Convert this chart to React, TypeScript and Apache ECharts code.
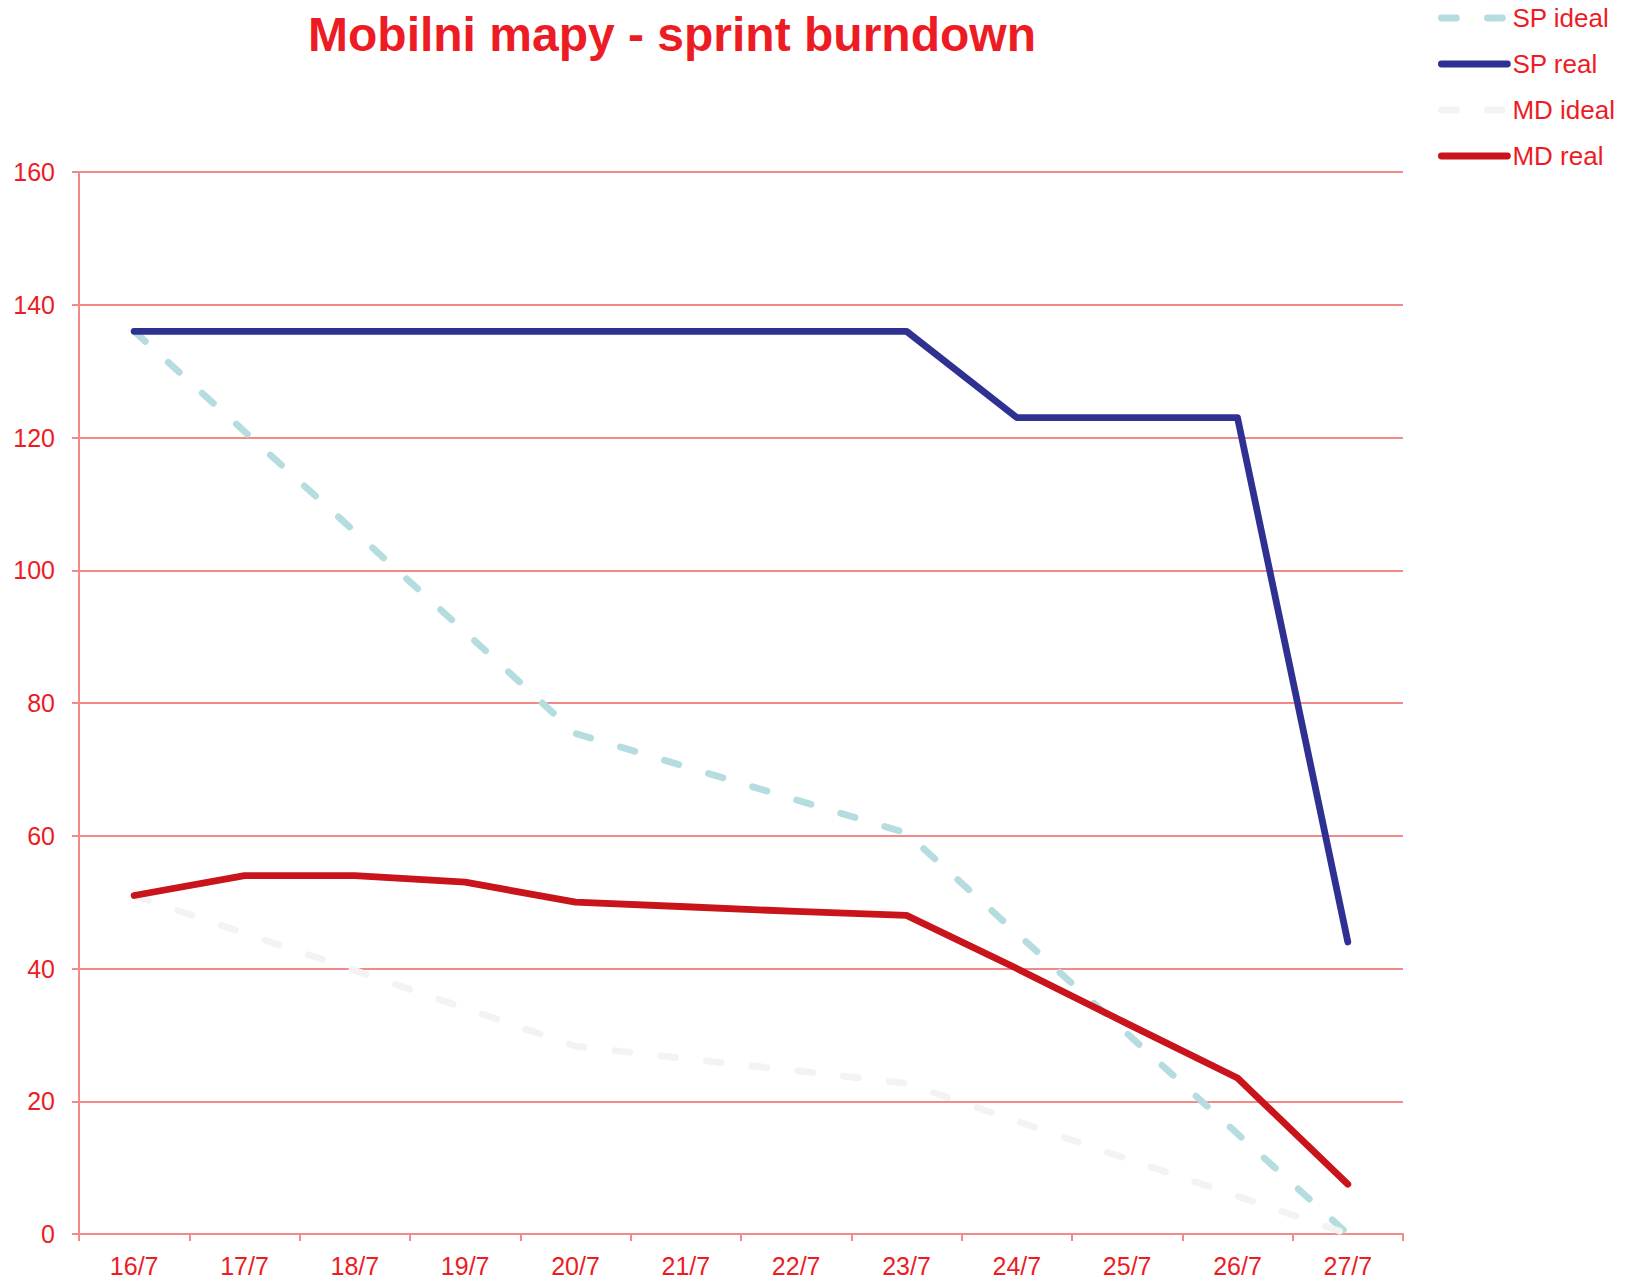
import React, { useEffect, useRef } from "react";
import * as echarts from "echarts";

const categories = ["16/7", "17/7", "18/7", "19/7", "20/7", "21/7", "22/7", "23/7", "24/7", "25/7", "26/7", "27/7"];
const spIdeal = [136, 120.9, 105.8, 90.7, 75.4, 70.4, 65.4, 60.4, 45.3, 30.2, 15.1, 0];
const spReal = [136, 136, 136, 136, 136, 136, 136, 136, 123, 123, 123, 44];
const mdIdeal = [51, 45.3, 39.7, 34, 28.3, 26.4, 24.6, 22.7, 17, 11.3, 5.7, 0];
const mdReal = [51, 54, 54, 53, 50, 49.3, 48.6, 48, 40, 31.7, 23.5, 7.5];
const yTicks = { min: 0, max: 160, interval: 20 };

const TEXT_RED = "#ed1c24";
const GRID_RED = "#f28a8a";
const FONT = "'Liberation Sans', Arial, Helvetica, sans-serif";

export default function App() {
  const ref = useRef<HTMLDivElement>(null);
  useEffect(() => {
    if (!ref.current) return;
    const chart = echarts.init(ref.current, undefined, { renderer: "svg" });
    const dash = [15, 31];
    const LW = 6.8;
    chart.setOption({
      animation: false,
      backgroundColor: "#ffffff",
      title: {
        text: "Mobilni mapy - sprint burndown",
        left: 308,
        top: 10,
        padding: 0,
        textStyle: { color: TEXT_RED, fontSize: 48, fontWeight: "bold", fontFamily: FONT },
      },
      legend: {
        orient: "vertical",
        left: 1438,
        top: 4,
        padding: 0,
        itemWidth: 66,
        itemHeight: 14,
        itemGap: 18,
        itemStyle: { opacity: 0, borderWidth: 0 },
        lineStyle: { width: LW, cap: "round", opacity: 1 },
        textStyle: { color: TEXT_RED, fontSize: 26, fontFamily: FONT, lineHeight: 28, padding: [0, 0, 0, 0] },
        data: ["SP ideal", "SP real", "MD ideal", "MD real"],
      },
      grid: { left: 79, right: 232, top: 172, bottom: 47, containLabel: false },
      xAxis: {
        type: "category",
        data: categories,
        boundaryGap: true,
        axisLine: { show: true, lineStyle: { color: GRID_RED, width: 2 } },
        axisTick: { show: true, length: 7, inside: false, alignWithLabel: false, lineStyle: { color: GRID_RED, width: 2 } },
        axisLabel: { color: TEXT_RED, fontSize: 25, fontFamily: FONT, margin: 19, interval: 0 },
        splitLine: { show: false },
      },
      yAxis: {
        type: "value",
        min: yTicks.min,
        max: yTicks.max,
        interval: yTicks.interval,
        axisLine: { show: true, lineStyle: { color: GRID_RED, width: 2 } },
        axisTick: { show: true, length: 7, inside: false, lineStyle: { color: GRID_RED, width: 2 } },
        axisLabel: { color: TEXT_RED, fontSize: 25, fontFamily: FONT, margin: 24 },
        splitLine: { show: true, lineStyle: { color: GRID_RED, width: 2 } },
      },
      series: [
        {
          name: "SP ideal",
          type: "line",
          data: spIdeal,
          symbol: "none",
          lineStyle: { color: "#b5dde0", width: LW, type: dash, cap: "round", join: "round" },
          itemStyle: { color: "#b5dde0" },
        },
        {
          name: "SP real",
          type: "line",
          data: spReal,
          symbol: "none",
          lineStyle: { color: "#2e3192", width: LW, type: "solid", cap: "round", join: "round" },
          itemStyle: { color: "#2e3192" },
        },
        {
          name: "MD ideal",
          type: "line",
          data: mdIdeal,
          symbol: "none",
          lineStyle: { color: "#f3f3f3", width: LW, type: dash, cap: "round", join: "round" },
          itemStyle: { color: "#f3f3f3" },
        },
        {
          name: "MD real",
          type: "line",
          data: mdReal,
          symbol: "none",
          lineStyle: { color: "#c8141a", width: LW, type: "solid", cap: "round", join: "round" },
          itemStyle: { color: "#c8141a" },
        },
      ],
    });
    return () => chart.dispose();
  }, []);
  return (
    <div
      ref={ref}
      style={{ position: "fixed", left: 0, top: 0, width: 1635, height: 1281, background: "#fff" }}
    />
  );
}
